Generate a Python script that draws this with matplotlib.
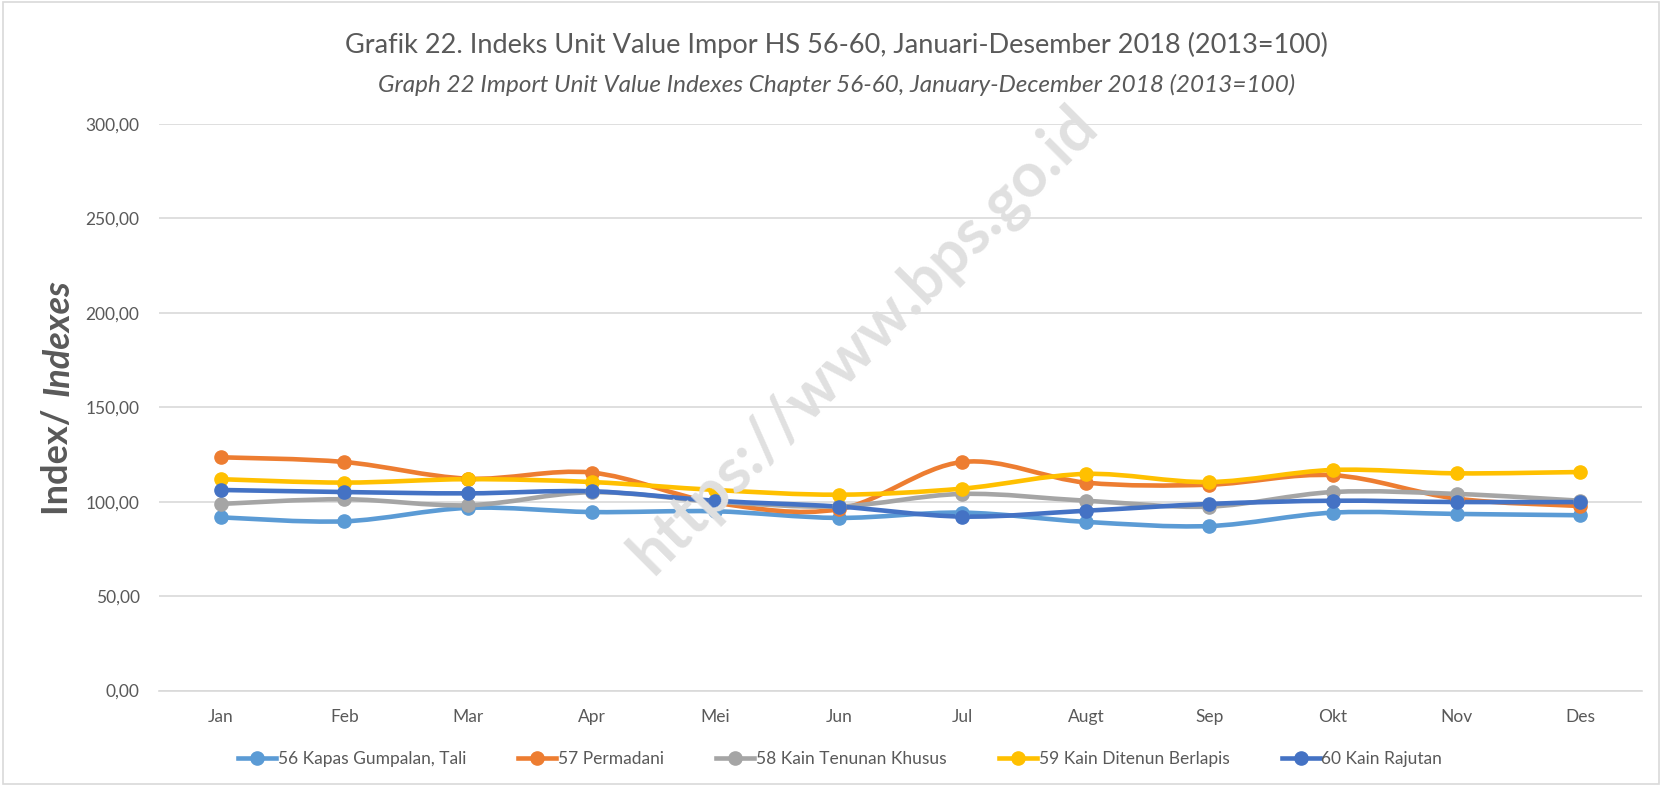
import matplotlib.pyplot as plt
import numpy as np
from matplotlib.path import Path
from matplotlib.patches import PathPatch
from matplotlib.ticker import FuncFormatter

plt.rcParams["font.family"] = ["Lato", "DejaVu Sans"]

months = ["Jan", "Feb", "Mar", "Apr", "Mei", "Jun", "Jul", "Augt", "Sep", "Okt", "Nov", "Des"]

kapas = [91.7, 89.6, 96.7, 94.5, 94.9, 91.4, 94.2, 89.3, 87.1, 94.2, 93.5, 92.8]
permadani = [123.5, 121.0, 112.2, 115.4, 99.5, 96.0, 121.0, 110.1, 109.0, 114.0, 101.6, 97.7]
tenunan = [98.8, 101.3, 98.1, 105.0, 100.0, 97.5, 104.1, 100.5, 97.4, 105.1, 104.1, 100.5]
berlapis = [111.9, 110.1, 111.9, 110.4, 106.2, 103.7, 106.9, 114.7, 110.4, 116.8, 115.0, 115.7]
rajutan = [106.2, 105.1, 104.4, 105.5, 100.5, 97.4, 92.1, 95.2, 98.8, 100.5, 99.8, 99.8]

labels = ["56 Kapas Gumpalan, Tali", "57 Permadani", "58 Kain Tenunan Khusus",
          "59 Kain Ditenun Berlapis", "60 Kain Rajutan"]
colors = ["#5B9BD5", "#ED7D31", "#A5A5A5", "#FFC000", "#4472C4"]
series = [kapas, permadani, tenunan, berlapis, rajutan]

txt = "#595959"


def smooth_path(x, y):
    # bezier through the points, like excel's smoothed line
    x = np.asarray(x, float)
    y = np.asarray(y, float)
    verts = [(x[0], y[0])]
    codes = [Path.MOVETO]
    n = len(x)
    for i in range(n - 1):
        x0, y0 = (x[i - 1], y[i - 1]) if i > 0 else (x[i], y[i])
        x3, y3 = (x[i + 2], y[i + 2]) if i + 2 < n else (x[i + 1], y[i + 1])
        c1 = (x[i] + (x[i + 1] - x0) / 6, y[i] + (y[i + 1] - y0) / 6)
        c2 = (x[i + 1] - (x3 - x[i]) / 6, y[i + 1] - (y3 - y[i]) / 6)
        verts += [c1, c2, (x[i + 1], y[i + 1])]
        codes += [Path.CURVE4] * 3
    return Path(verts, codes)


fig = plt.figure(figsize=(16.62, 7.86), dpi=100)
ax = fig.add_axes([159 / 1662, 1 - 690.5 / 786, (1642 - 159) / 1662, (690.5 - 124) / 786])

x = np.arange(len(months))
for s, lab, c in zip(series, labels, colors):
    ax.add_patch(PathPatch(smooth_path(x, s), fill=False, edgecolor=c, lw=3.3,
                           capstyle="round", joinstyle="round", zorder=3))
    ax.plot(x, s, "o", color=c, ms=9.5, zorder=4)
    ax.plot([], [], "-o", color=c, lw=3.3, ms=9.5, label=lab)

ax.set_xlim(-0.5, len(months) - 0.5)
ax.set_ylim(0, 300)
ax.set_yticks(np.arange(0, 301, 50))
ax.yaxis.set_major_formatter(FuncFormatter(lambda v, p: f"{v:.2f}".replace(".", ",")))
ax.set_xticks(x)
ax.set_xticklabels(months)
ax.tick_params(axis="both", length=0, labelsize=12.5, colors=txt)
ax.tick_params(axis="x", pad=13)
ax.tick_params(axis="y", pad=14)
ax.grid(axis="y", color="#D9D9D9", lw=1.2, zorder=0)
for sp in ["top", "right", "left"]:
    ax.spines[sp].set_visible(False)
ax.spines["bottom"].set_color("#D9D9D9")
ax.spines["bottom"].set_linewidth(1.2)

fig.text(58 / 1662, 1 - 400 / 786, "Index/ ", rotation=90, ha="center", va="top",
         fontsize=26, fontweight="bold", color=txt)
fig.text(58 / 1662, 1 - 400 / 786 + 0.005, "Indexes", rotation=90, ha="center", va="bottom",
         fontsize=26, fontweight="bold", style="italic", color=txt)

fig.text(0.5035, 1 - 45 / 786, "Grafik 22. Indeks Unit Value Impor HS 56-60, Januari-Desember 2018 (2013=100)",
         ha="center", va="center", fontsize=19.5, color=txt)
fig.text(0.5035, 1 - 85 / 786, "Graph 22 Import Unit Value Indexes Chapter 56-60, January-December 2018 (2013=100)",
         ha="center", va="center", fontsize=17.5, style="italic", color=txt)

fig.text(864 / 1662, 1 - 340 / 786, "https://www.bps.go.id", rotation=45, ha="center", va="center",
         fontsize=45, fontweight="bold", color="#E0E0E0", zorder=0)

ax.legend(loc="center", bbox_to_anchor=((840 - 159) / (1642 - 159),
                                        (1 - 759 / 786 - (1 - 690.5 / 786)) / ((690.5 - 124) / 786)),
          ncol=5, frameon=False, fontsize=12.5, labelcolor=txt, handlelength=2.2,
          handletextpad=0.1, columnspacing=3.0)

fig.patches.append(plt.Rectangle((0.002, 0.002), 0.996, 0.996, transform=fig.transFigure,
                                 fill=False, edgecolor="#D9D9D9", lw=1.2))

fig.savefig("out.png", dpi=100)
